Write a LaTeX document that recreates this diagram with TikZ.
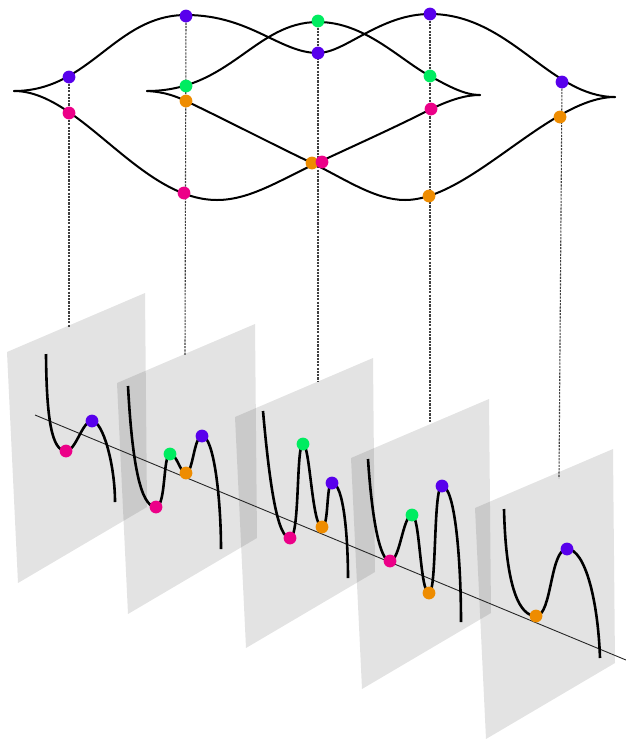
\documentclass[tikz,border=0pt]{standalone}
\begin{document}
\begin{tikzpicture}[x=1pt,y=-1pt,
  topcurve/.style={line width=2pt,black,line cap=round},
  potcurve/.style={line width=2.6pt,black},
  plane/.style={fill=black,fill opacity=0.11},
  axisline/.style={line width=0.9pt,black!85},
  vdash/.style={line width=1.1pt,black!75,dash pattern=on 2.2pt off 1.1pt},
  dot/.style={circle,fill=#1,inner sep=0pt,minimum size=12.8pt,draw=none}]
\definecolor{cpurple}{RGB}{88,0,236}
\definecolor{cpink}{RGB}{236,0,136}
\definecolor{cgreen}{RGB}{0,236,96}
\definecolor{corange}{RGB}{238,140,0}
\useasboundingbox (0,0) rectangle (626,740);

% planes
\foreach \px/\py in {7/352,117/383,235/417,351/458,475/508}{
  \fill[plane] (\px,\py) -- ++(138,-59) -- ++(2,214) -- ++(-129,76) -- cycle;
}

% axis
\coordinate (axA) at (35,415);
\coordinate (axB) at (626,660);
\draw[axisline] (axA) -- (axB);

% top coordinates
\coordinate (a1) at (69,77);   \coordinate (a2) at (69,113);
\coordinate (b1) at (186,16);  \coordinate (b2) at (186,86);
\coordinate (b3) at (186,101); \coordinate (b4) at (184,193);
\coordinate (c1) at (318,21);  \coordinate (c2) at (318,53);
\coordinate (c3) at (312,163); \coordinate (c4) at (322,162);
\coordinate (d1) at (430,14);  \coordinate (d2) at (430,76);
\coordinate (d3) at (431,109); \coordinate (d4) at (429,196);
\coordinate (f1) at (562,82);  \coordinate (f2) at (560,117);
% ends of dashed lines
\coordinate (e1) at (69,327);
\coordinate (e2) at (185,355);
\coordinate (e3) at (318,381);
\coordinate (e4) at (430,423);
\coordinate (e5) at (559,478);

\draw[vdash] (a1) -- (e1);
\draw[vdash] (b1) -- (e2);
\draw[vdash] (c1) -- (e3);
\draw[vdash] (d1) -- (e4);
\draw[vdash] (f1) -- (e5);

% top curves
\draw[topcurve] (14,91) .. controls (90,91) and (115,15) .. (186,15)
  .. controls (250,15) and (280,53) .. (318,53)
  .. controls (345,53) and (380,14) .. (430,14)
  .. controls (510,14) and (550,97) .. (615,97);
\draw[topcurve] (14,91) .. controls (80,91) and (140,200) .. (217,200)
  .. controls (250,200) and (280,180) .. (317,163)
  .. controls (360,143) and (400,125) .. (431,109)
  .. controls (450,100) and (465,95) .. (480,95);
\draw[topcurve] (147,91) .. controls (230,91) and (255,22) .. (318,22)
  .. controls (365,22) and (400,60) .. (430,76)
  .. controls (450,87) and (465,95) .. (480,95);
\draw[topcurve] (147,91) .. controls (165,92) and (175,96) .. (186,101)
  .. controls (230,122) and (280,148) .. (312,163)
  .. controls (345,179) and (375,200) .. (405,200)
  .. controls (470,200) and (550,97) .. (615,97);

% potential curves
\draw[potcurve] (46,354) .. controls (46.5,420) and (52,451) .. (66,451)
  .. controls (76,451) and (82,421) .. (92,421)
  .. controls (103,421) and (115,465) .. (115,502);
\draw[potcurve] (128,386) .. controls (132,460) and (140,507) .. (156,507)
  .. controls (166,507) and (163,454) .. (170,454)
  .. controls (177,454) and (180,473) .. (186,473)
  .. controls (193,473) and (194,436) .. (202,436)
  .. controls (214,436) and (221,500) .. (221,549);
\draw[potcurve] (263,411) .. controls (270,490) and (278,538) .. (290,538)
  .. controls (300,538) and (296,444) .. (303,444)
  .. controls (310,444) and (312,527) .. (322,527)
  .. controls (329,527) and (326,483) .. (332,483)
  .. controls (344,483) and (348,540) .. (348,578);
\draw[potcurve] (368,459) .. controls (372,520) and (380,561) .. (390,561)
  .. controls (400,561) and (403,515) .. (412,515)
  .. controls (420,515) and (420,593) .. (429,593)
  .. controls (437,593) and (433,486) .. (442,486)
  .. controls (455,486) and (461,560) .. (461,622);
\draw[potcurve] (504,509) .. controls (506,590) and (520,616) .. (536,616)
  .. controls (552,616) and (550,549) .. (567,549)
  .. controls (585,549) and (598,600) .. (600,658);

% top dots
\node[dot=cpurple] (na1) at (a1) {};
\node[dot=cpink]   (na2) at (a2) {};
\node[dot=cpurple] (nb1) at (b1) {};
\node[dot=cgreen]  (nb2) at (b2) {};
\node[dot=corange] (nb3) at (b3) {};
\node[dot=cpink]   (nb4) at (b4) {};
\node[dot=cgreen]  (nc1) at (c1) {};
\node[dot=cpurple] (nc2) at (c2) {};
\node[dot=corange] (nc3) at (c3) {};
\node[dot=cpink]   (nc4) at (c4) {};
\node[dot=cpurple] (nd1) at (d1) {};
\node[dot=cgreen]  (nd2) at (d2) {};
\node[dot=cpink]   (nd3) at (d3) {};
\node[dot=corange] (nd4) at (d4) {};
\node[dot=cpurple] (nf1) at (f1) {};
\node[dot=corange] (nf2) at (f2) {};

% bottom dots
\node[dot=cpink]   (p1a) at (66,451) {};
\node[dot=cpurple] (p1b) at (92,421) {};
\node[dot=cpink]   (p2a) at (156,507) {};
\node[dot=cgreen]  (p2b) at (170,454) {};
\node[dot=corange] (p2c) at (186,473) {};
\node[dot=cpurple] (p2d) at (202,436) {};
\node[dot=cpink]   (p3a) at (290,538) {};
\node[dot=cgreen]  (p3b) at (303,444) {};
\node[dot=corange] (p3c) at (322,527) {};
\node[dot=cpurple] (p3d) at (332,483) {};
\node[dot=cpink]   (p4a) at (390,561) {};
\node[dot=cgreen]  (p4b) at (412,515) {};
\node[dot=corange] (p4c) at (429,593) {};
\node[dot=cpurple] (p4d) at (442,486) {};
\node[dot=corange] (p5a) at (536,616) {};
\node[dot=cpurple] (p5b) at (567,549) {};
\end{tikzpicture}
\end{document}
